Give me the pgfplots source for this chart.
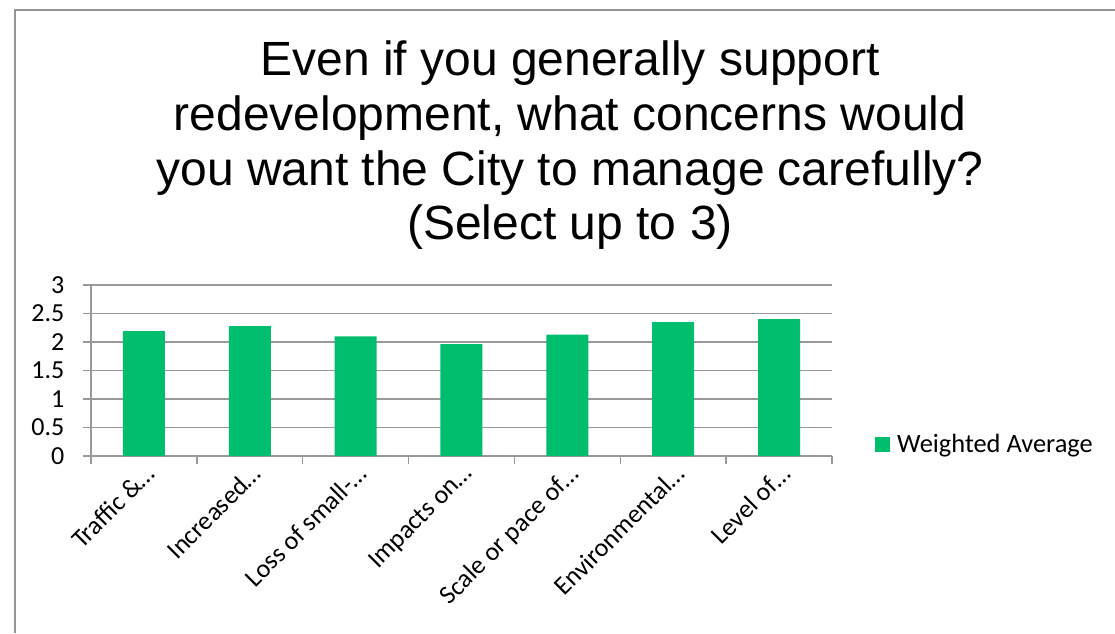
\documentclass[border=0pt]{standalone}
\usepackage{fontspec}
\setmainfont{Carlito}
\newfontfamily\titlefont{Liberation Sans}
\usepackage{pgfplots}
\pgfplotsset{compat=1.18}
\definecolor{bargreen}{HTML}{00BE6E}
\definecolor{gridgray}{HTML}{989898}
\definecolor{framegray}{HTML}{949494}
\begin{document}
\begin{tikzpicture}
\useasboundingbox (0,0) rectangle (836.25pt,-474.75pt);
\fill[white] (0,0) rectangle (836.25pt,-474.75pt);
\draw[framegray, line width=1.8pt] (11.25pt,-474.75pt) -- (11.25pt,-7.5pt) -- (836.25pt,-7.5pt);
\begin{scope}[every node/.style={font=\titlefont\fontsize{36}{42}\selectfont, anchor=base, inner sep=0pt}]
\node at (427.5pt,-56.25pt) {Even if you generally support};
\node at (427.5pt,-97.5pt) {redevelopment, what concerns would};
\node at (427.5pt,-138.75pt) {you want the City to manage carefully?};
\node at (427.5pt,-179.25pt) {(Select up to 3)};
\end{scope}
\begin{axis}[
  at={(68.25pt,-342pt)}, anchor=south west,
  scale only axis, width=555.75pt, height=128.25pt,
  xmin=-0.5, xmax=6.5, ymin=0, ymax=3,
  axis x line*=bottom, axis y line*=left,
  tick align=outside,
  major tick length=6pt,
  axis line style={gridgray, line width=1.1pt},
  every tick/.style={gridgray, line width=1.1pt},
  ymajorgrids, grid style={gridgray, line width=1.1pt},
  ytick={0,0.5,1,1.5,2,2.5,3},
  yticklabels={0,0.5,1,1.5,2,2.5,3},
  yticklabel style={xshift=-10.5pt},
  tick label style={font=\fontsize{19.5}{23}\selectfont, black},
  /pgf/number format/assume math mode=true,
  xtick={-0.5,0.5,1.5,2.5,3.5,4.5,5.5,6.5},
  xticklabels={},
  extra x ticks={0,1,2,3,4,5,6},
  extra x tick labels={Traffic \&…,Increased…,Loss of small-…,Impacts on…,Scale or pace of…,Environmental…,Level of…},
  extra x tick style={major tick length=0pt, xticklabel style={rotate=45, anchor=north east}},
  legend style={at={(1.058,0.067)}, anchor=west, draw=none, fill=none, inner sep=0pt,
    font=\fontsize{19.8}{23}\selectfont, nodes={inner sep=0pt}, column sep=5.25pt},
  legend image code/.code={\fill[bargreen] (0pt,-5.7pt) rectangle (11.25pt,5.7pt);},
]
\addplot[ybar, bar width=31.5pt, fill=bargreen, draw=none] coordinates {(0,2.19) (1,2.28) (2,2.10) (3,1.965) (4,2.13) (5,2.35) (6,2.40)};
\addlegendentry{Weighted Average}
\end{axis}
\end{tikzpicture}
\end{document}
